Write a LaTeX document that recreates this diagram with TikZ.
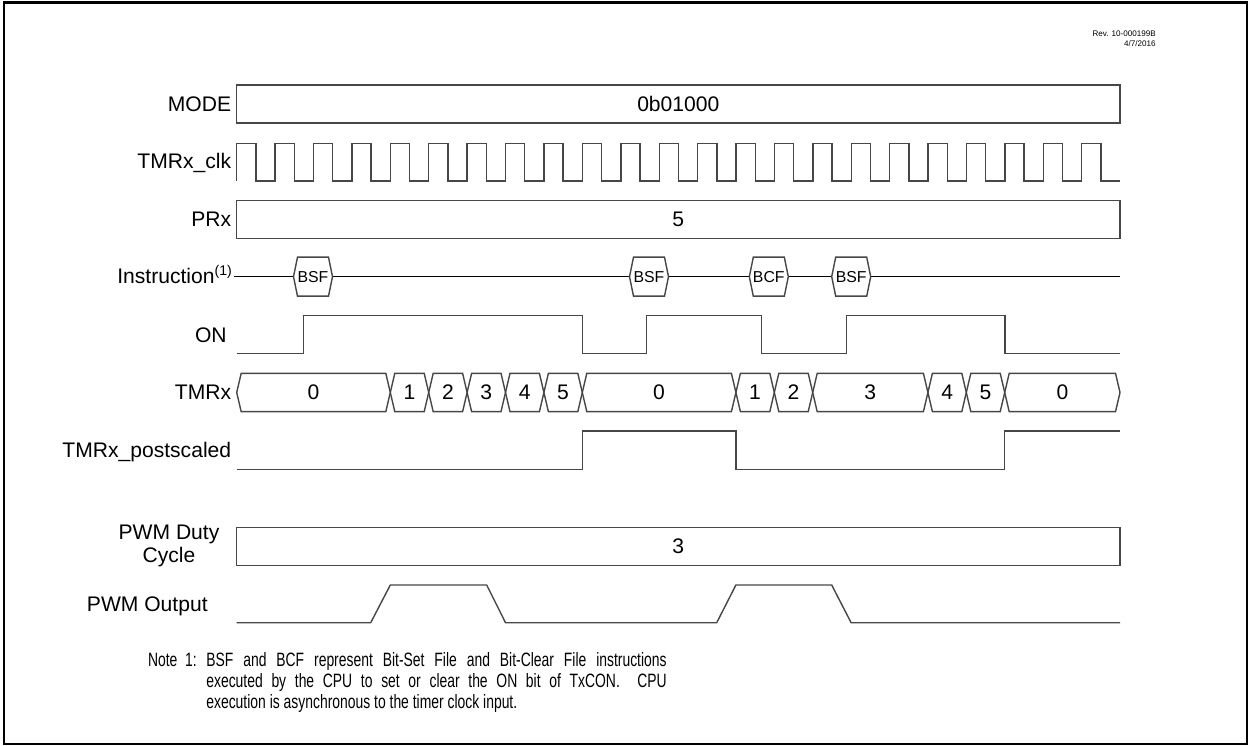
\documentclass[tikz,border=0pt]{standalone}
\usepackage{fontspec}
\setmainfont{Liberation Sans}
\newfontfamily\narrowfont[FakeStretch=0.72]{Liberation Sans}
\usetikzlibrary{positioning}
\newcommand{\lblsize}{\fontsize{12}{13.2}\selectfont}

\begin{document}
\begin{tikzpicture}[x=0.02cm,y=-0.02cm,font=\lblsize,
  sig/.style={draw=black!72,line width=0.8pt},
  lab/.style={anchor=base east,inner sep=0pt},
  notetxt/.style={anchor=base west,inner sep=0pt,font=\narrowfont\fontsize{11}{12}\selectfont}]
  \useasboundingbox (0,0) rectangle (1250,746);
  \draw[line width=1.3pt] (4,2.5) rectangle (1247,744);
  % revision tag
  \node[anchor=north east,align=right,inner sep=0pt,font=\fontsize{4.6}{5.3}\selectfont] (rev) at (1156,31) {Rev. 10-000199B\\4/7/2016};
  % row labels
  \foreach \t/\y [count=\i] in {MODE/111.5,TMRx\_clk/169,PRx/226.5,TMRx/399,TMRx\_postscaled/457}
    \node[lab] (lab\i) at (231.5,\y) {\t};
  \node[lab] (labins) at (233,283.3) {Instruction\textsuperscript{(1)}};
  \node[lab] (labon) at (227,342.3) {ON};
  \node[align=center,inner sep=0pt] (labduty) at (169,546) {PWM Duty\\Cycle};
  \node[lab] (labpwm) at (208,611) {PWM Output};
  % bus boxes
  \foreach \y/\v [count=\i] in {85/0b01000,200.7/5,527.3/3}{
    \draw[sig] (236.7,\y) rectangle (1120,\y+38);
    \node (val\i) at (678.3,\y+19) {\v};}
  % clock
  \draw[sig] (236.7,181) \foreach \k in {0,...,22}{ -- ({236.7+38.41*\k},181) -- ++(0,-37.7) -- ++(19.2,0) -- ++(0,37.7)} -- (1120,181);
  % instructions
  \draw[sig,draw=black] (234,276.7) -- (1120,276.7);
  \foreach \x/\t [count=\i] in {293.5/BSF,629.5/BSF,749.3/BCF,831.7/BSF}{
    \draw[sig,fill=white] (\x,276.7) -- ++(4,-19.5) -- ++(31,0) -- ++(4,19.5) -- ++(-4,19.5) -- ++(-31,0) -- cycle;
    \node[font=\fontsize{9}{10}\selectfont] (ins\i) at (\x+19.5,276.7) {\t};}
  % ON bit
  \draw[sig] (236.7,353.3) -- (303.3,353.3) |- (582.3,315.7) |- (646.7,353.3) |- (761.7,315.7) |- (846.7,353.3) |- (1005,315.7) |- (1120,353.3);
  % TMRx count
  \foreach \a/\b/\v [count=\i] in {236.7/390.3/0,390.3/428.7/1,428.7/467.1/2,467.1/505.5/3,505.5/543.9/4,543.9/582.3/5,582.3/735.9/0,735.9/774.3/1,774.3/812.7/2,812.7/927.9/3,927.9/966.3/4,966.3/1004.7/5,1004.7/1120/0}{
    \draw[sig] (\a,392.5) -- (\a+4.5,373.3) -- (\b-4.5,373.3) -- (\b,392.5) -- (\b-4.5,411.7) -- (\a+4.5,411.7) -- cycle;
    \node (cnt\i) at ({(\a+\b)/2},392.5) {\v};}
  % postscaled
  \draw[sig] (236.7,469.3) -- (582.3,469.3) |- (735.9,431) |- (1004.7,469.3) |- (1120,431);
  % PWM output
  \draw[sig] (236.7,622.7) -- (370.7,622.7) -- (390.3,585) -- (486.7,585) -- (505.5,622.7) -- (716.7,622.7) -- (735.9,585) -- (831.7,585) -- (851.1,622.7) -- (1120,622.7);
  % note (first two lines justified)
  \node[notetxt] (notelab) at (147.7,666.7) {Note\ \ 1:};
  \foreach \t [count=\i] in {{\makebox[262pt][s]{BSF and BCF represent Bit-Set File and Bit-Clear File instructions}},{\makebox[262pt][s]{executed by the CPU to set or clear the ON bit of TxCON.\ \ CPU}},{execution is asynchronous to the timer clock input.}}
    \node[notetxt] (note\i) at (206,{645.6+21.1*\i}) {\t};
\end{tikzpicture}
\end{document}
